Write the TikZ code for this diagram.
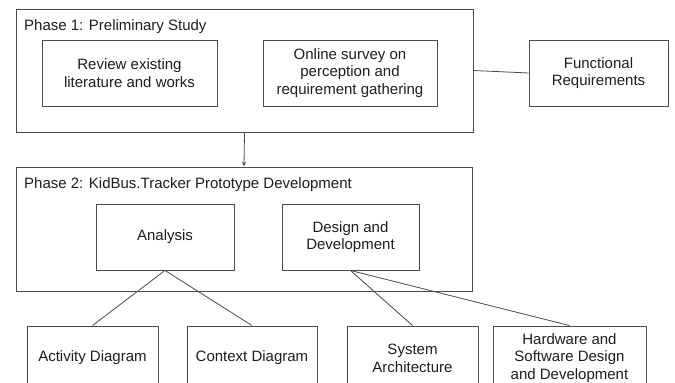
\documentclass[tikz,border=0pt]{standalone}
\usepackage{fontspec}
\setmainfont{Liberation Sans}
\usetikzlibrary{arrows.meta}
\definecolor{ln}{RGB}{75,75,75}
\definecolor{tx}{RGB}{30,30,30}
\begin{document}
\begin{tikzpicture}[x=1pt,y=-1pt,
  box/.style={draw=ln, line width=0.9pt, text=tx, align=center,
    font=\fontsize{15}{17.7}\selectfont, inner sep=0pt, anchor=center},
  lbl/.style={text=tx, font=\fontsize{15}{17.7}\selectfont, inner sep=0pt, anchor=west},
  conn/.style={draw=ln, line width=0.8pt}]
\clip (0,0) rectangle (675,383);
\fill[white] (0,0) rectangle (675,383);
% Phase 1
\node[box, minimum width=457pt, minimum height=123pt] (p1) at (244.5,70.5) {};
\node[lbl] (p1l) at (24,27) {Phase 1: Preliminary Study};
\node[box, minimum width=175pt, minimum height=66pt] (rev) at (129.5,73) {Review existing\\literature and works};
\node[box, minimum width=174pt, minimum height=66pt] (onl) at (350,73) {Online survey on\\perception and\\requirement gathering};
\node[box, minimum width=139pt, minimum height=66pt] (fr) at (598.5,73) {Functional\\Requirements};
% Phase 2
\node[box, minimum width=456pt, minimum height=124pt] (p2) at (244,229) {};
\node[lbl] (p2l) at (24,185) {Phase 2: KidBus.Tracker Prototype Development};
\node[box, minimum width=138pt, minimum height=66pt] (ana) at (165,237) {Analysis};
\node[box, minimum width=137pt, minimum height=66pt] (des) at (350.5,237) {Design and\\Development};
% Bottom row
\node[box, minimum width=131pt, minimum height=64pt] (act) at (92.5,358) {Activity Diagram};
\node[box, minimum width=130pt, minimum height=64pt] (ctx) at (252,358) {Context Diagram};
\node[box, minimum width=131pt, minimum height=64pt] (sys) at (412.5,358) {System\\Architecture};
\node[box, minimum width=153pt, minimum height=64pt] (hw) at (569.5,358) {Hardware and\\Software Design\\and Development};
% Connectors
\draw[conn] (p1.east) -- (fr.west);
\draw[conn, -{Stealth[length=5pt,width=4pt]}] (p1.south) -- (p2.north);
\draw[conn] (ana.south) -- (act.north);
\draw[conn] (ana.south) -- (ctx.north);
\draw[conn] (des.south) -- (sys.north);
\draw[conn] (des.south) -- (hw.north);
\end{tikzpicture}
\end{document}
